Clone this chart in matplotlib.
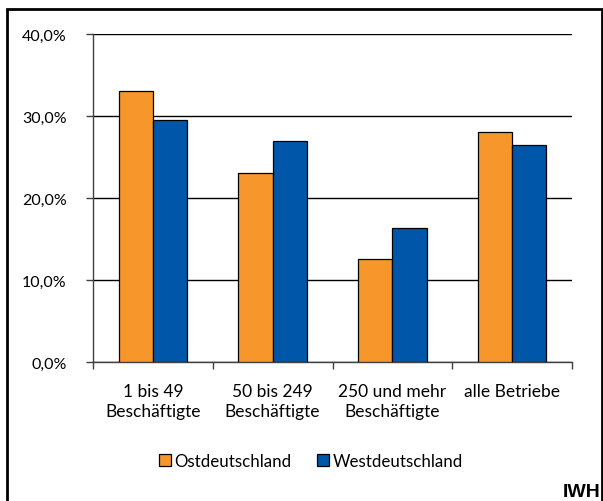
import matplotlib
matplotlib.use("Agg")
import matplotlib.pyplot as plt
from matplotlib.patches import Rectangle
from matplotlib.ticker import FuncFormatter
import numpy as np

categories = ["1 bis 49\nBeschäftigte", "50 bis 249\nBeschäftigte",
              "250 und mehr\nBeschäftigte", "alle Betriebe"]
ost = [33.1, 23.1, 12.6, 28.1]
west = [29.5, 27.0, 16.3, 26.5]
series_names = ["Ostdeutschland", "Westdeutschland"]
colors = ["#F7962B", "#0056A8"]
yticks = [0, 10, 20, 30, 40]

plt.rcParams["font.family"] = ["Lato", "DejaVu Sans"]

W, H = 603, 502
fig = plt.figure(figsize=(W / 100, H / 100), dpi=100)

# outer frame around the chart area
fig.add_artist(Rectangle((7 / W, -0.05), (602 - 7) / W, 1.05 - 10 / H,
                         transform=fig.transFigure, fill=False,
                         edgecolor="black", linewidth=2.0))

ax = fig.add_axes([93 / W, 1 - 363 / H, (572 - 93) / W, (363 - 35) / H])

x = np.arange(len(categories))
bw = 1 / 3.5
ax.bar(x - bw / 2, ost, bw, color=colors[0], edgecolor="black",
       linewidth=0.9, label=series_names[0], zorder=3)
ax.bar(x + bw / 2, west, bw, color=colors[1], edgecolor="black",
       linewidth=0.9, label=series_names[1], zorder=3)

ax.set_xlim(-0.5, len(categories) - 0.5)
ax.set_ylim(0, 40)
ax.set_yticks(yticks)
ax.yaxis.set_major_formatter(FuncFormatter(lambda v, p: f"{v:.1f}%".replace(".", ",")))
ax.yaxis.grid(True, color="black", linewidth=1.0, zorder=0)
ax.set_axisbelow(True)

ax.set_xticks(x)
ax.set_xticklabels(categories, fontsize=12.5, linespacing=1.3)
ax.set_xticks(np.arange(len(categories) + 1) - 0.5, minor=True)
ax.tick_params(axis="x", which="major", length=0, pad=15)
ax.tick_params(axis="x", which="minor", length=5, width=1, color="#404040", direction="out")
ax.tick_params(axis="y", length=5, width=1, color="#404040", labelsize=11.5, pad=14)

for s in ["top", "right"]:
    ax.spines[s].set_visible(False)
ax.spines["left"].set_color("#404040")
ax.spines["bottom"].set_color("#404040")
ax.spines["left"].set_linewidth(1)
ax.spines["bottom"].set_linewidth(1)

fig.legend(loc="center", bbox_to_anchor=(311 / W, 1 - 462 / H), ncol=2,
           frameon=False, fontsize=12.2, handlelength=0.7, handleheight=0.7,
           handletextpad=0.2, columnspacing=1.5, borderpad=0)

fig.text(601 / W, 1 - 493 / H, "IWH", ha="right", va="center",
         fontsize=14, fontweight="bold", family=["Liberation Sans", "DejaVu Sans"])

fig.savefig("out.png", dpi=100)
